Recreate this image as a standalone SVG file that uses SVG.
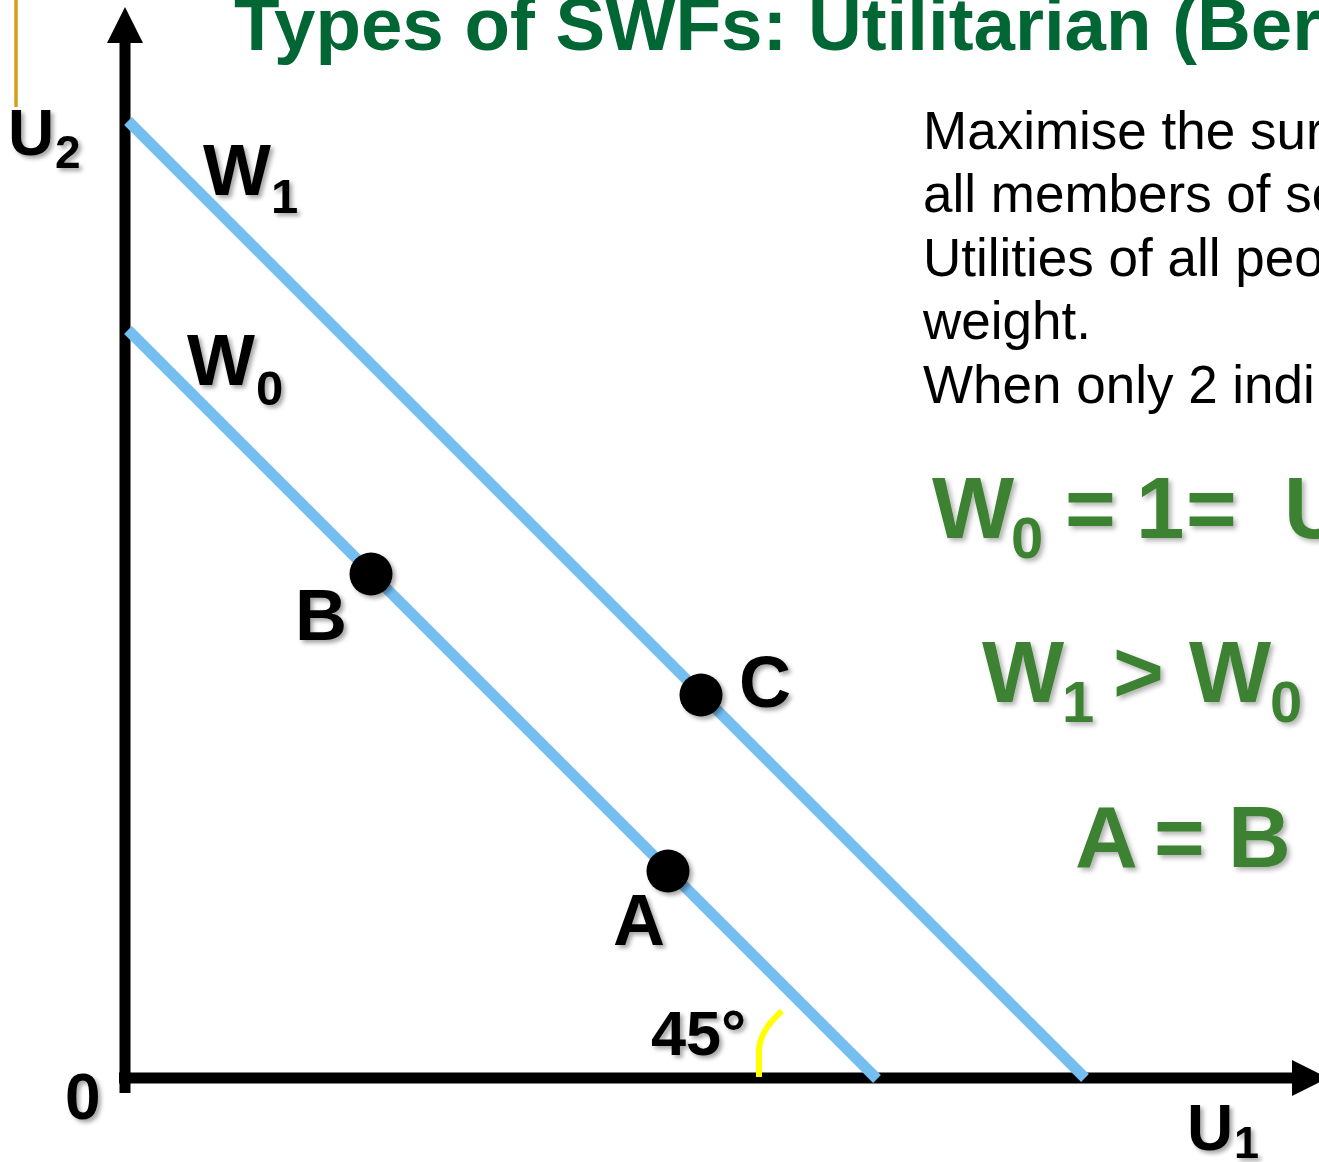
<svg xmlns="http://www.w3.org/2000/svg" width="1319" height="1162" viewBox="0 0 1319 1162">
<defs>
  <filter id="sh" x="-20%" y="-20%" width="150%" height="150%">
    <feDropShadow dx="3" dy="3" stdDeviation="2" flood-color="#000" flood-opacity="0.35"/>
  </filter>
  <filter id="gsh" x="-20%" y="-20%" width="150%" height="150%">
    <feDropShadow dx="3" dy="3" stdDeviation="2.5" flood-color="#000" flood-opacity="0.3"/>
  </filter>
</defs>
<style>
  .lbl { font-family: "Liberation Sans", Arial, sans-serif; font-weight: bold; fill: #000; }
  .body { font-family: "Liberation Sans", Arial, sans-serif; font-size: 53px; fill: #000; }
  .eq { font-family: "Liberation Sans", Arial, sans-serif; font-weight: bold; font-size: 87px; fill: #3E8230; }
  .eqs { font-size: 58px; }
  .wline { stroke: #75BEF0; stroke-width: 11; fill: none; }
  .axis { stroke: #000; stroke-width: 11; fill: none; }
  .pt { fill: #000; }
</style>
<rect width="1319" height="1162" fill="#fff"/>

<line x1="16" y1="0" x2="16" y2="107" stroke="#D4A017" stroke-width="3.5"/>

<text id="title" x="234" y="50" font-family="Liberation Sans, Arial, sans-serif" font-weight="bold" font-size="74.5" fill="#006633">Types of SWFs: Utilitarian (Ber</text>

<g id="description">
  <text class="body" x="923" y="149">Maximise the sur</text>
  <text class="body" x="923" y="212">all members of so</text>
  <text class="body" x="923" y="276">Utilities of all peo</text>
  <text class="body" x="923" y="339">weight.</text>
  <text class="body" x="923" y="403">When only 2 indi</text>
</g>

<g id="formulas" filter="url(#gsh)">
  <text class="eq"><tspan x="932" y="538">W</tspan><tspan class="eqs" x="1011" y="558">0</tspan><tspan x="1065" y="538">=</tspan><tspan x="1136" y="538">1</tspan><tspan x="1186" y="538">=</tspan><tspan x="1284" y="538">U</tspan></text>
  <text class="eq"><tspan x="982" y="702">W</tspan><tspan class="eqs" x="1062" y="722">1</tspan><tspan x="1113" y="702">&gt;</tspan><tspan x="1189" y="702">W</tspan><tspan class="eqs" x="1270" y="722">0</tspan></text>
  <text class="eq"><tspan x="1075" y="867">A</tspan><tspan x="1154" y="867">=</tspan><tspan x="1228" y="867">B</tspan></text>
</g>

<g id="connectors">
  <line id="u2-axis" class="axis" x1="125" y1="1093" x2="125" y2="38"/>
  <polygon points="125,7 143,43 107,43" fill="#000"/>
  <line id="u1-axis" class="axis" x1="119" y1="1078" x2="1296" y2="1078"/>
  <polygon points="1292,1060 1328,1078 1292,1096" fill="#000"/>
  <line id="w1-line" class="wline" x1="128" y1="121" x2="1085" y2="1078"/>
  <line id="w0-line" class="wline" x1="128" y1="330" x2="877" y2="1079"/>
  <path id="angle-arc" d="M759,1077 L759,1050 Q760,1030 782,1011" stroke="#FFFF00" stroke-width="6" fill="none"/>
</g>

<g id="point-B" filter="url(#sh)"><circle class="pt" cx="371" cy="574" r="21.5"/></g>
<g id="point-C" filter="url(#sh)"><circle class="pt" cx="701" cy="695" r="21.5"/></g>
<g id="point-A" filter="url(#sh)"><circle class="pt" cx="668" cy="871" r="21.5"/></g>

<g id="labels" filter="url(#sh)">
  <text class="lbl"><tspan x="8" y="155" font-size="64">U</tspan><tspan x="55" y="168" font-size="46">2</tspan></text>
  <text class="lbl"><tspan x="203" y="195" font-size="72">W</tspan><tspan x="271" y="213" font-size="49">1</tspan></text>
  <text class="lbl"><tspan x="187" y="385" font-size="72">W</tspan><tspan x="256" y="405" font-size="49">0</tspan></text>
  <text class="lbl" x="295" y="640" font-size="72">B</text>
  <text class="lbl" x="739" y="707" font-size="72">C</text>
  <text class="lbl" x="613" y="945" font-size="72">A</text>
  <text class="lbl" x="651" y="1055" font-size="63">45°</text>
  <text class="lbl" x="65" y="1119" font-size="64">0</text>
  <text class="lbl"><tspan x="1187" y="1150" font-size="64">U</tspan><tspan x="1234" y="1158" font-size="45">1</tspan></text>
</g>
</svg>
